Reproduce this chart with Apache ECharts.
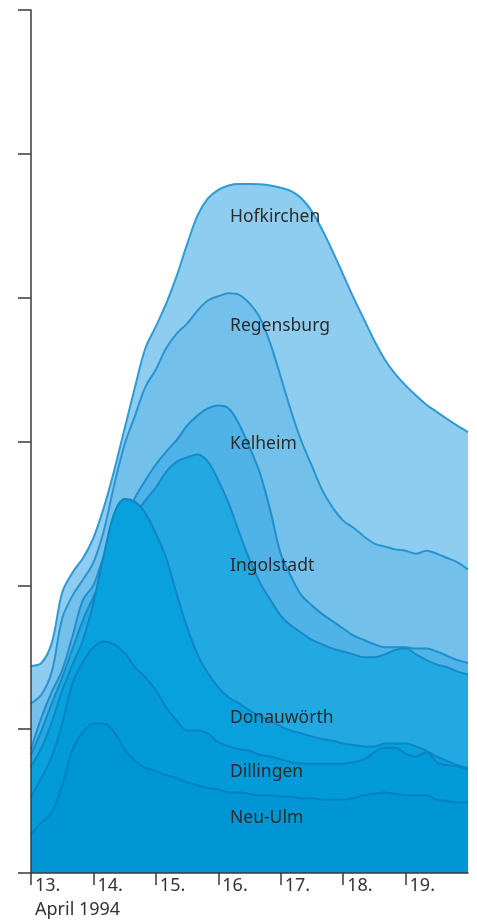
<!DOCTYPE html>
<html>
<head>
<meta charset="utf-8">
<script src="https://cdn.jsdelivr.net/npm/echarts@6/dist/echarts.min.js"></script>
<style>
  html, body { margin: 0; padding: 0; background: #ffffff; }
  #chart { width: 477px; height: 923px; }
</style>
</head>
<body>
<div id="chart"></div>
<script>
// Hours since 13 April 1994, 00:00, sampled every 4 hours
const hours = [0,4,8,12,16,20,24,28,32,36,40,44,48,52,56,60,64,68,72,76,80,84,88,92,96,100,104,108,112,116,120,124,128,132,136,140,144,148,152,156,160,164,168];

// Day labels on the time axis
const dayLabels = ['13.', '14.', '15.', '16.', '17.', '18.', '19.'];

// Gauge stations along the Danube, downstream to upstream
const stations = ['Hofkirchen', 'Regensburg', 'Kelheim', 'Ingolstadt', 'Donauwörth', 'Dillingen', 'Neu-Ulm'];

// Discharge (m³/s) per station
const hofkirchen = [720,730,800,975,1045,1095,1165,1270,1400,1545,1690,1825,1900,1980,2075,2185,2285,2345,2375,2390,2395,2395,2394,2390,2382,2370,2345,2300,2235,2160,2080,2000,1925,1850,1785,1735,1695,1660,1628,1603,1578,1554,1533];
const regensburg = [590,620,700,885,965,1020,1080,1190,1350,1490,1590,1690,1750,1825,1875,1910,1955,1990,2005,2015,2010,1980,1930,1840,1725,1605,1500,1415,1330,1270,1225,1200,1170,1145,1135,1125,1120,1110,1120,1110,1095,1080,1055];
const kelheim = [430,540,630,705,825,950,1000,1100,1160,1225,1305,1365,1420,1465,1505,1555,1590,1615,1625,1615,1560,1480,1390,1260,1110,1030,965,930,900,875,850,825,810,795,785,785,785,780,780,770,755,740,730];
const ingolstadt = [410,495,590,680,780,880,960,1035,1115,1185,1245,1295,1340,1395,1430,1445,1455,1430,1365,1285,1185,1090,1010,950,895,860,835,810,795,780,770,760,750,750,760,775,780,760,740,725,715,700,690];
const donauwoerth = [370,435,525,635,725,810,940,1105,1250,1300,1290,1250,1180,1095,970,855,760,695,645,610,590,565,545,530,510,495,485,475,465,460,450,445,440,440,450,450,450,440,425,405,390,375,365];
const dillingen = [265,330,405,520,660,735,785,805,795,765,715,680,635,575,530,495,495,485,455,440,430,425,410,405,395,385,380,380,380,380,380,385,395,420,435,435,415,405,420,385,375,370,360];
const neuUlm = [135,175,210,305,430,490,520,520,490,430,390,365,355,340,330,315,305,295,290,280,280,275,270,270,265,265,260,260,255,255,255,260,270,275,280,275,270,270,270,255,250,245,245];

const seriesValues = [hofkirchen, regensburg, kelheim, ingolstadt, donauwoerth, dillingen, neuUlm];

// Fill and outline colours, lightest at the back
const fillColors = ['#8fcdf0', '#73c0eb', '#4fb3e7', '#23a9e1', '#08a0dd', '#039ad9', '#0096d5'];
const lineColors = ['#2e9ad6', '#2894d1', '#1e8fcd', '#148bc9', '#0b87c6', '#0884c3', '#0582c0'];

// Where each station name sits, in pixels
const labelPos = [[230, 208], [230, 317], [230, 435], [230, 557], [230, 709], [230, 763], [230, 809]];

const chart = echarts.init(document.getElementById('chart'), null, { renderer: 'canvas' });

const series = stations.map((name, i) => ({
  name: name,
  type: 'line',
  data: hours.map((h, k) => [h, seriesValues[i][k]]),
  smooth: 0.35,
  symbol: 'none',
  lineStyle: { color: lineColors[i], width: 2 },
  areaStyle: { color: fillColors[i], opacity: 1 },
  z: 2 + i,
  silent: true,
  animation: false
}));

const textFont = '"Noto Sans", "Open Sans", sans-serif';

chart.setOption({
  animation: false,
  grid: { left: 31, right: 9, top: 10, bottom: 50, containLabel: false },
  xAxis: {
    type: 'value',
    min: 0,
    max: 168,
    interval: 24,
    splitLine: { show: false },
    axisLine: { show: true, lineStyle: { color: '#3a3a3a', width: 1.5 } },
    axisTick: { show: true, inside: false, length: 12, lineStyle: { color: '#3a3a3a', width: 1.5 } },
    axisLabel: {
      show: true,
      align: 'left',
      margin: 4,
      padding: [0, 0, 0, 4],
      color: '#333333',
      fontSize: 18,
      fontFamily: textFont,
      showMaxLabel: false,
      formatter: function (v) {
        const idx = Math.round(v / 24);
        return idx < dayLabels.length ? dayLabels[idx] : '';
      }
    },
    z: 20
  },
  yAxis: {
    type: 'value',
    min: 0,
    max: 3000,
    interval: 500,
    splitLine: { show: false },
    axisLine: { show: true, lineStyle: { color: '#3a3a3a', width: 1.5 } },
    axisTick: { show: true, inside: false, length: 13, lineStyle: { color: '#3a3a3a', width: 1.5 } },
    axisLabel: { show: false },
    z: 20
  },
  series: series,
  graphic: stations.map((name, i) => ({
    type: 'text',
    left: labelPos[i][0],
    top: labelPos[i][1],
    z: 100,
    style: { text: name, fill: '#2b2b2b', font: '17.5px ' + textFont }
  })).concat([{
    type: 'text',
    left: 35,
    top: 901,
    z: 100,
    style: { text: 'April 1994', fill: '#333333', font: '18px ' + textFont }
  }])
});
</script>
</body>
</html>
